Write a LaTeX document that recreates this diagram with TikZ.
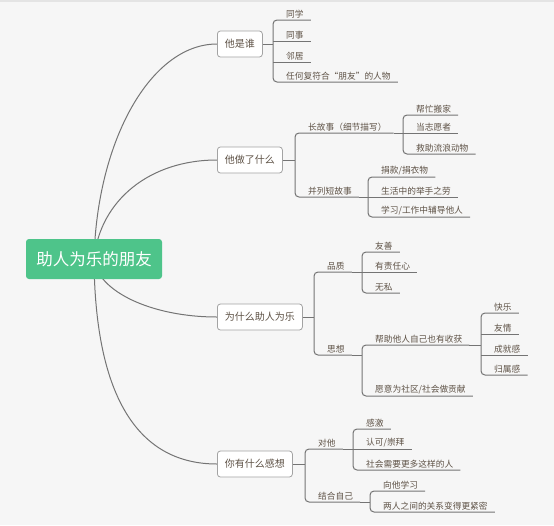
\documentclass[tikz,border=0pt]{standalone}
\usepackage{fontspec}
\setmainfont{Noto Sans CJK SC}
\usetikzlibrary{backgrounds}
\definecolor{ink}{HTML}{5E5246}
\definecolor{wire}{HTML}{747474}
\definecolor{frame}{HTML}{A3A3A3}
\definecolor{mint}{HTML}{4EC48A}
\definecolor{paper}{HTML}{F6F6F6}
\definecolor{edge}{HTML}{E4E4E4}

\begin{document}
\begin{tikzpicture}[
		x=1pt, y=-1pt,
		every node/.style={text=ink},
		root/.style={rectangle, rounded corners=3pt, fill=mint, text=white,
				minimum width=136pt, minimum height=40pt, inner sep=0pt,
				font=\fontsize{16.5}{18}\selectfont},
		topic/.style={rectangle, rounded corners=3pt, draw=frame, line width=0.8pt,
				fill=white, minimum height=26pt, inner xsep=7.5pt, inner ysep=0pt,
				anchor=west, font=\fontsize{10}{12}\selectfont},
		leaf/.style={anchor=south west, inner xsep=7pt, inner ysep=1.5pt,
				font=\fontsize{8.7}{10}\selectfont},
		link/.style={draw=wire, line width=1pt},
		bracket/.style={link, rounded corners=4pt},
		]
		\useasboundingbox (0,0) rectangle (554,525);

		% main topics
		\node[root] (root) at (94,259) {助人为乐的朋友};
		\node[topic] (who)  at (217,44)  {他是谁};
		\node[topic] (did)  at (217,160) {他做了什么};
		\node[topic] (why)  at (217,317) {为什么助人为乐};
		\node[topic] (feel) at (217,464) {你有什么感想};

		% junctions
		\coordinate (jwho)     at (273,44);
		\coordinate (jdid)     at (295,160);
		\coordinate (jwhy)     at (314,317);
		\coordinate (jfeel)    at (305,464);
		\coordinate (jlong)    at (403,133);
		\coordinate (jshort)   at (368,197);
		\coordinate (jquality) at (362,272);
		\coordinate (jthought) at (362,355);
		\coordinate (jgain)    at (481,345);
		\coordinate (jtohim)   at (353,449);
		\coordinate (jmyself)  at (370,502);

		% who
		\node[leaf] (classmate) at (279,20) {同学};
		\node[leaf] (colleague) at (279,41) {同事};
		\node[leaf] (neighbor)  at (279,62) {邻居};
		\node[leaf] (anyone)    at (279,82) {任何复符合“朋友”的人物};

		% what he did
		\node[leaf] (longst)  at (301,133) {长故事（细节描写）};
		\node[leaf] (shortst) at (301,197) {并列短故事};
		\node[leaf] (move)      at (409,115) {帮忙搬家};
		\node[leaf] (volunteer) at (409,133) {当志愿者};
		\node[leaf] (rescue)    at (409,154) {救助流浪动物};
		\node[leaf] (donate)    at (374,177) {捐款/捐衣物};
		\node[leaf] (kindness)  at (374,197) {生活中的举手之劳};
		\node[leaf] (tutor)     at (374,217) {学习/工作中辅导他人};

		% why
		\node[leaf] (quality) at (320,272) {品质};
		\node[leaf] (thought) at (320,355) {思想};
		\node[leaf] (kind)     at (368,252) {友善};
		\node[leaf] (duty)     at (368,272) {有责任心};
		\node[leaf] (selfless) at (368,293) {无私};
		\node[leaf] (gain)     at (368,345) {帮助他人自己也有收获};
		\node[leaf] (serve)    at (368,396) {愿意为社区/社会做贡献};
		\node[leaf] (joy)        at (487,313) {快乐};
		\node[leaf] (friendship) at (487,334) {友情};
		\node[leaf] (achieve)    at (487,355) {成就感};
		\node[leaf] (belong)     at (487,375) {归属感};

		% feelings
		\node[leaf] (tohim)  at (311,449) {对他};
		\node[leaf] (myself) at (311,502) {结合自己};
		\node[leaf] (grateful) at (359,429) {感激};
		\node[leaf] (admire)   at (359,449) {认可/崇拜};
		\node[leaf] (needmore) at (359,470) {社会需要更多这样的人};
		\node[leaf] (learn)    at (376,491) {向他学习};
		\node[leaf] (closer)   at (376,512) {两人之间的关系变得更紧密};

		% brackets
		\draw[link] (who.east) -- (jwho);
		\draw[bracket] (classmate.south east) -- (classmate.south west -| jwho)
			-- (anyone.south west -| jwho) -- (anyone.south east);
		\draw[link] (colleague.south west -| jwho) -- (colleague.south east);
		\draw[link] (neighbor.south west -| jwho) -- (neighbor.south east);

		\draw[link] (did.east) -- (jdid);
		\draw[bracket] (longst.south east) -- (longst.south west -| jdid)
			-- (shortst.south west -| jdid) -- (shortst.south east);
		\draw[link] (longst.south east) -- (jlong);
		\draw[bracket] (move.south east) -- (move.south west -| jlong)
			-- (rescue.south west -| jlong) -- (rescue.south east);
		\draw[link] (volunteer.south west -| jlong) -- (volunteer.south east);
		\draw[link] (shortst.south east) -- (jshort);
		\draw[bracket] (donate.south east) -- (donate.south west -| jshort)
			-- (tutor.south west -| jshort) -- (tutor.south east);
		\draw[link] (kindness.south west -| jshort) -- (kindness.south east);

		\draw[link] (why.east) -- (jwhy);
		\draw[bracket] (quality.south east) -- (quality.south west -| jwhy)
			-- (thought.south west -| jwhy) -- (thought.south east);
		\draw[link] (quality.south east) -- (jquality);
		\draw[bracket] (kind.south east) -- (kind.south west -| jquality)
			-- (selfless.south west -| jquality) -- (selfless.south east);
		\draw[link] (duty.south west -| jquality) -- (duty.south east);
		\draw[link] (thought.south east) -- (jthought);
		\draw[bracket] (gain.south east) -- (gain.south west -| jthought)
			-- (serve.south west -| jthought) -- (serve.south east);
		\draw[link] (gain.south east) -- (jgain);
		\draw[bracket] (joy.south east) -- (joy.south west -| jgain)
			-- (belong.south west -| jgain) -- (belong.south east);
		\draw[link] (friendship.south west -| jgain) -- (friendship.south east);
		\draw[link] (achieve.south west -| jgain) -- (achieve.south east);

		\draw[link] (feel.east) -- (jfeel);
		\draw[bracket] (tohim.south east) -- (tohim.south west -| jfeel)
			-- (myself.south west -| jfeel) -- (myself.south east);
		\draw[link] (tohim.south east) -- (jtohim);
		\draw[bracket] (grateful.south east) -- (grateful.south west -| jtohim)
			-- (needmore.south west -| jtohim) -- (needmore.south east);
		\draw[link] (admire.south west -| jtohim) -- (admire.south east);
		\draw[link] (myself.south east) -- (jmyself);
		\draw[bracket] (learn.south east) -- (learn.south west -| jmyself)
			-- (closer.south west -| jmyself) -- (closer.south east);

		% curves from the root
		\begin{scope}[on background layer]
			\fill[paper] (0,0) rectangle (554,525);
			\draw[edge, line width=1.2pt] (0,1) -- (554,1);
			\draw[link] (root.center) .. controls (97,140) and (151,44) .. (who.west);
			\draw[link] (root.center) .. controls (100,200) and (150,160) .. (did.west);
			\draw[link] (root.center) .. controls (97,291) and (151,317) .. (why.west);
			\draw[link] (root.center) .. controls (95,400) and (140,464) .. (feel.west);
		\end{scope}

	\end{tikzpicture}
\end{document}
